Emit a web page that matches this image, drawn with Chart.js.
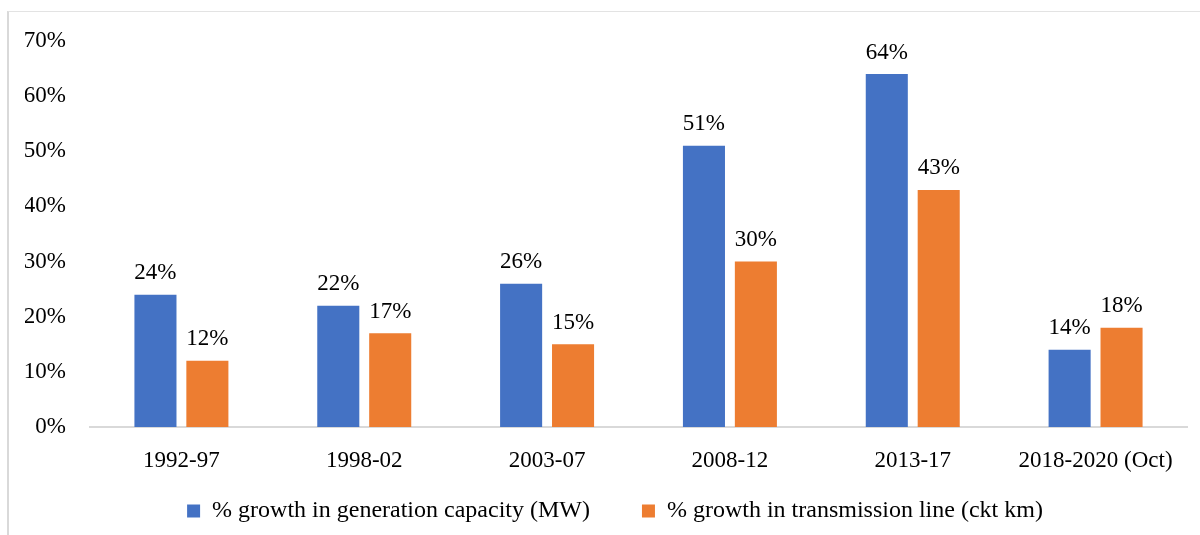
<!DOCTYPE html>
<html>
<head>
<meta charset="utf-8">
<script src="https://cdn.jsdelivr.net/npm/chart.js@4/dist/chart.umd.min.js"></script>
<style>
    body { margin: 0; background: #fff; }
    #wrap { position: relative; width: 1200px; height: 535px; }
    #frame {
        position: absolute; left: 7px; top: 11px; right: -2px; bottom: -2px;
        border-left: 2px solid #d9d9d9; border-top: 1px solid #e3e3e3;
        pointer-events: none;
    }
</style>
</head>
<body>
<div id="wrap">
    <canvas id="growthChart" width="1200" height="535"></canvas>
    <div id="frame"></div>
</div>
<script>
const periods = ['1992-97', '1998-02', '2003-07', '2008-12', '2013-17', '2018-2020 (Oct)'];
const generationGrowth = [24, 22, 26, 51, 64, 14];
const transmissionGrowth = [12, 17, 15, 30, 43, 18];
const yTicks = [0, 10, 20, 30, 40, 50, 60, 70];

const serifFont = '"Liberation Serif", "Times New Roman", serif';
const fontSize = 23;

// draws the % value above each bar
const barLabels = {
    id: 'barLabels',
    afterDatasetsDraw(chart) {
        const ctx = chart.ctx;
        ctx.save();
        ctx.font = fontSize + 'px ' + serifFont;
        ctx.fillStyle = '#000';
        ctx.textAlign = 'center';
        ctx.textBaseline = 'bottom';
        chart.data.datasets.forEach((ds, i) => {
            chart.getDatasetMeta(i).data.forEach((bar, j) => {
                ctx.fillText(ds.data[j] + '%', bar.x, bar.y - 10);
            });
        });
        ctx.restore();
    }
};

// legend needs wide gaps between items, so its padding is large;
// keep its block short in the layout and pull it up under the axis labels
const legendPlacement = {
    id: 'legendPlacement',
    beforeUpdate(chart) {
        const legend = chart.legend;
        if (legend && !legend._patched) {
            const fit = legend.fit;
            legend.fit = function () {
                fit.call(this);
                this.height = 39;
            };
            legend._patched = true;
        }
    },
    afterLayout(chart) {
        const legend = chart.legend;
        if (!legend) return;
        legend.top = chart.chartArea.bottom + 20;
        legend.bottom = legend.top + 90;
        legend.height = 90;
        legend.left += 9;
        legend.right += 9;
    }
};

function initializeChart() {
    const ctx = document.getElementById('growthChart').getContext('2d');
    new Chart(ctx, {
        type: 'bar',
        data: {
            labels: periods,
            datasets: [{
                label: '% growth in generation capacity (MW)',
                data: generationGrowth,
                backgroundColor: '#4472C4'
            }, {
                label: '% growth in transmission line (ckt km)',
                data: transmissionGrowth,
                backgroundColor: '#ED7D31'
            }]
        },
        options: {
            responsive: false,
            animation: false,
            categoryPercentage: 0.568,
            barPercentage: 0.81,
            layout: { padding: { left: 25, right: 13, top: 41, bottom: 9 } },
            scales: {
                x: {
                    afterFit: scale => { scale.height = 60; },
                    grid: { display: false, drawTicks: false },
                    border: { display: true, color: '#d9d9d9', width: 2 },
                    ticks: { color: '#000', font: { family: serifFont, size: fontSize }, padding: 20, maxRotation: 0 }
                },
                y: {
                    min: 0,
                    max: 70,
                    afterBuildTicks: scale => { scale.ticks = yTicks.map(v => ({ value: v })); },
                    afterFit: scale => { scale.width = 65; },
                    grid: { display: false, drawTicks: false },
                    border: { display: false },
                    ticks: {
                        color: '#000',
                        font: { family: serifFont, size: fontSize },
                        padding: 24,
                        callback: v => v + '%'
                    }
                }
            },
            plugins: {
                legend: {
                    position: 'bottom',
                    labels: {
                        color: '#000',
                        font: { family: serifFont, size: 24 },
                        boxWidth: 13,
                        boxHeight: 13,
                        padding: 52
                    }
                },
                tooltip: { enabled: false }
            }
        },
        plugins: [barLabels, legendPlacement]
    });
}

document.addEventListener('DOMContentLoaded', initializeChart);
</script>
</body>
</html>
